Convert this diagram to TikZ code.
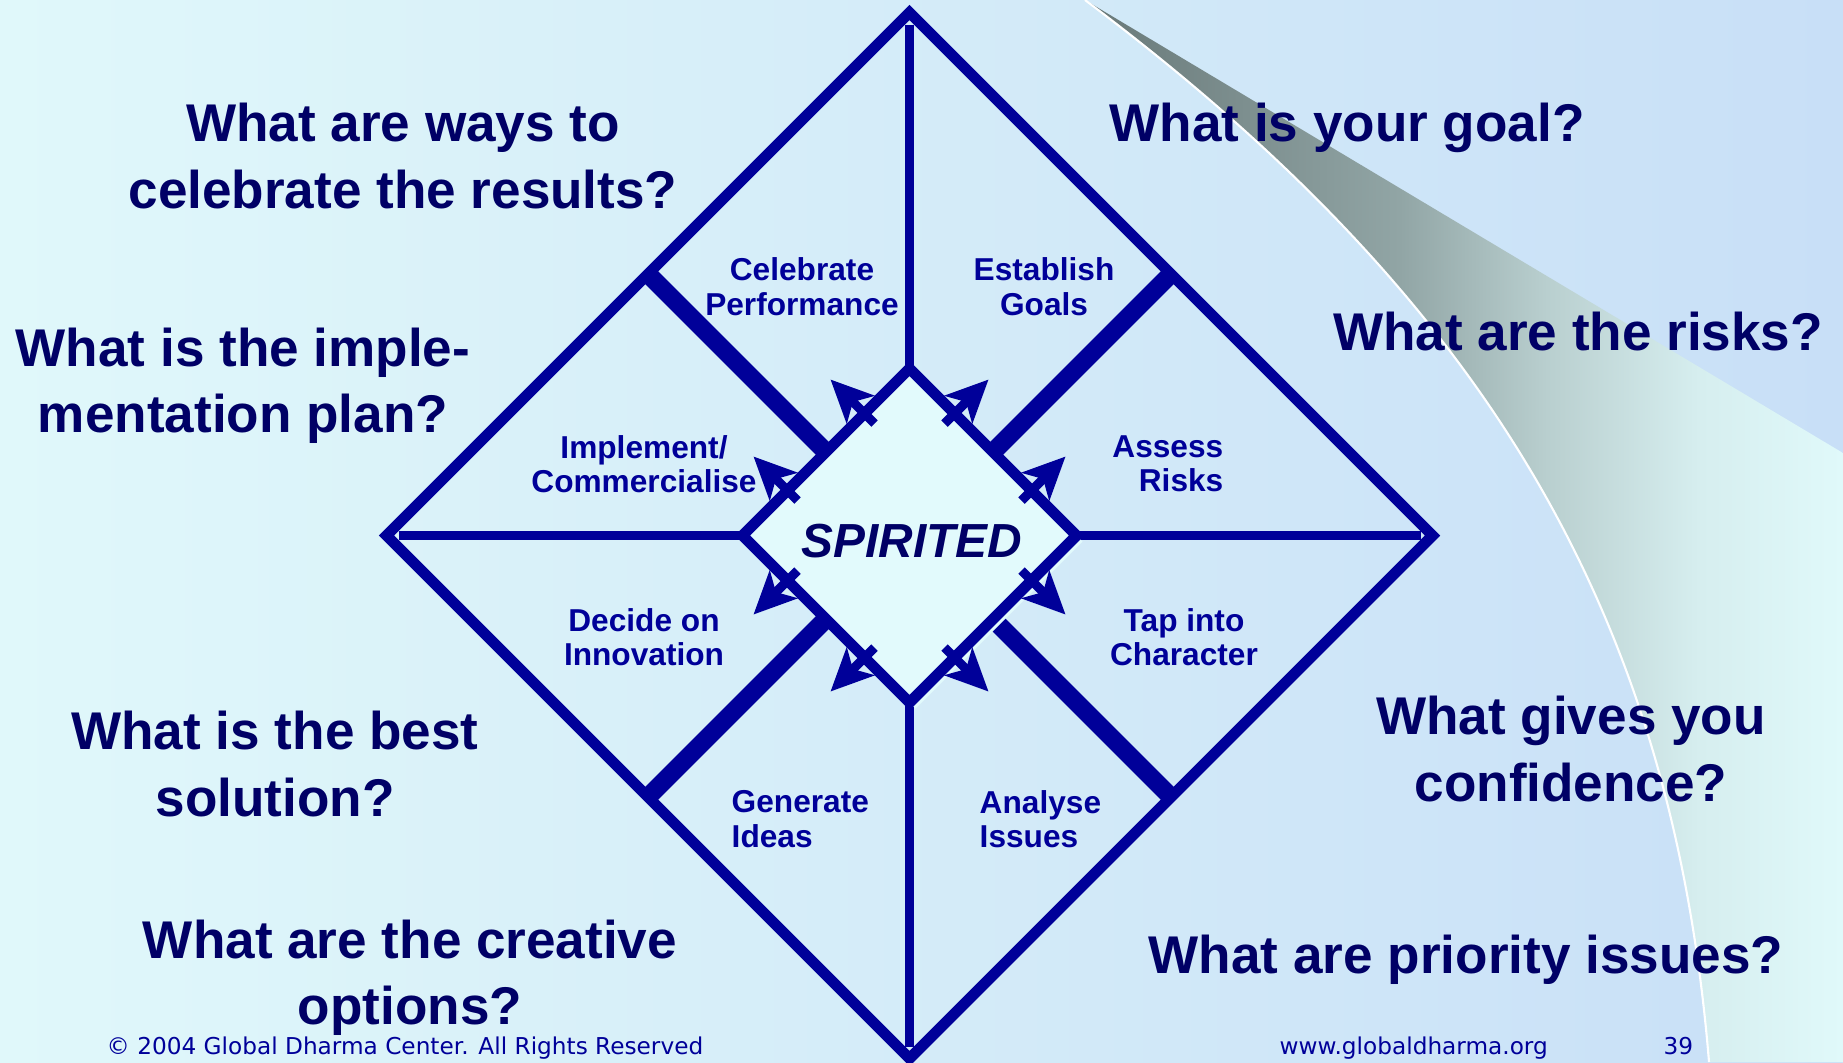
\documentclass[tikz,border=0pt]{standalone}
\usepackage{fontspec}
\setmainfont{Liberation Sans}
\newfontfamily\footerfont{DejaVu Sans}
\usetikzlibrary{arrows.meta,calc}

\definecolor{qnavy}{RGB}{0,0,102}
\definecolor{lineblue}{RGB}{0,0,153}
\definecolor{bgleft}{RGB}{224,248,250}
\definecolor{bgright}{RGB}{200,223,247}
\definecolor{innerfill}{RGB}{226,250,252}
\definecolor{rib1}{RGB}{104,120,120}
\definecolor{rib2}{RGB}{145,165,165}
\definecolor{rib3}{RGB}{185,207,207}
\definecolor{rib4}{RGB}{214,238,239}
\definecolor{rib5}{RGB}{224,249,250}

\pgfdeclarehorizontalshading{ribbon}{100bp}{color(0bp)=(rib1); color(25bp)=(rib1); color(45.75bp)=(rib2); color(55.5bp)=(rib3); color(65.5bp)=(rib4); color(75bp)=(rib5); color(100bp)=(rib5)}

\tikzset{
  question/.style={text=qnavy, align=center, inner sep=0pt, font=\fontsize{15.1pt}{18.8pt}\selectfont\bfseries},
  segment/.style={text=lineblue, align=center, inner sep=0pt, font=\fontsize{9pt}{9.8pt}\selectfont\bfseries},
  outline/.style={draw=lineblue, line width=3.1pt},
  spoke/.style={draw=lineblue, line width=2.6pt},
  divider/.style={draw=lineblue, line width=5.2pt},
  marker/.style={draw=lineblue, line width=2.6pt, -{Stealth[length=12pt,width=11pt,inset=3pt]}},
  credit/.style={text=lineblue, inner sep=0pt, anchor=base west, font=\footerfont\fontsize{6.6pt}{8pt}\selectfont},
}

\begin{document}
\begin{tikzpicture}[x=0.01cm, y=-0.01cm]
    \useasboundingbox (0,0) rectangle (1843,1062);
    \clip (0,0) rectangle (1843,1062);

    % Background and swoosh
    \shade[left color=bgleft, right color=bgright] (0,0) rectangle (1843,1062);
    \shade[shading=ribbon] (1085,0) -- (1843,453) -- (1843,1062) -- (1709,1062) .. controls (1672,612) and (1485,300) .. (1085,0) -- cycle;
    \draw[white, line width=0.6pt] (1085,0) .. controls (1485,300) and (1672,612) .. (1709,1062);

    % Diamond corners
    \coordinate (N) at (909.5,12.5);
    \coordinate (E) at (1432.5,535.5);
    \coordinate (S) at (909.5,1058.5);
    \coordinate (W) at (386.5,535.5);
    \coordinate (n) at (909.5,368.5);
    \coordinate (e) at (1076.5,535.5);
    \coordinate (s) at (909.5,702.5);
    \coordinate (w) at (742.5,535.5);

    % Outer diamond
    \draw[outline] (N) -- (E) -- (S) -- (W) -- cycle;

    % Spokes
    \draw[spoke] (N) ++(0,12) -- (n);
    \draw[spoke] (E) ++(-12,0) -- (e);
    \draw[spoke] (S) ++(0,-12) -- (s);
    \draw[spoke] (W) ++(12,0) -- (w);

    % Thick dividers
    \draw[divider] ($(N)!0.5!(W)$) -- ($(n)!0.5!(w)$);
    \draw[divider] ($(N)!0.5!(E)$) -- ($(n)!0.5!(e)$);
    \draw[divider] ($(S)!0.5!(E)$) -- ($(s)!0.5!(e)$);
    \draw[divider] ($(S)!0.5!(W)$) -- ($(s)!0.5!(w)$);

    % Inner diamond
    \fill[innerfill] (n) ++(6,6) -- ++(167,167) -- ++(-167,167) -- ++(-167,-167) -- cycle;
    \filldraw[fill=innerfill, outline] (n) -- (e) -- (s) -- (w) -- cycle;

    % Arrows out of the centre
    \draw[marker] (n) ++(-45,45) ++(10,10) -- ++(-44,-44);
    \draw[marker] (w) ++(45,-45) ++(10,10) -- ++(-44,-44);
    \draw[marker] (n) ++(45,45) ++(-10,10) -- ++(44,-44);
    \draw[marker] (e) ++(-45,-45) ++(-10,10) -- ++(44,-44);
    \draw[marker] (e) ++(-45,45) ++(-10,-10) -- ++(44,44);
    \draw[marker] (s) ++(45,-45) ++(-10,-10) -- ++(44,44);
    \draw[marker] (s) ++(-45,-45) ++(10,-10) -- ++(-44,44);
    \draw[marker] (w) ++(45,45) ++(10,-10) -- ++(-44,44);

    \node[text=qnavy, inner sep=0pt, font=\fontsize{13.6pt}{16pt}\selectfont\bfseries\itshape] (spirited) at (912,541) {SPIRITED};

    % Segments
    \node[segment] (celebrate) at (802,286.5) {Celebrate\\Performance};
    \node[segment] (goals) at (1044,286.5) {Establish\\Goals};
    \node[segment] (implement) at (644,464) {Implement/\\Commercialise};
    \node[segment, align=right, anchor=east] (risks) at (1224,464) {Assess\\Risks};
    \node[segment] (decide) at (644,637) {Decide on\\Innovation};
    \node[segment] (character) at (1184,637) {Tap into\\Character};
    \node[segment, align=left, anchor=west] (ideas) at (731,819) {Generate\\Ideas};
    \node[segment, align=left, anchor=west] (issues) at (979,819) {Analyse\\Issues};

    % Questions
    \node[question] (qcelebrate) at (403,156) {What are ways to\\celebrate the results?};
    \node[question] (qplan) at (243,385.5) {What is the imple-\\mentation plan?};
    \node[question] (qsolution) at (275,764) {What is the best\\solution?};
    \node[question] (qoptions) at (410,978) {What are the creative\\options?};
    \node[question] (qgoal) at (1347,128) {What is your goal?};
    \node[question] (qrisks) at (1578,331.5) {What are the risks?};
    \node[question] (qconfidence) at (1571,749) {What gives you\\confidence?};
    \node[question] (qissues) at (1466,960) {What are priority issues?};

    % Footer
    \node[credit] (copyright) at (106,1054) {© 2004 Global Dharma Center. All Rights Reserved};
    \node[credit] (website) at (1279,1054) {www.globaldharma.org};
    \node[credit] (page) at (1663,1054) {39};
\end{tikzpicture}
\end{document}
